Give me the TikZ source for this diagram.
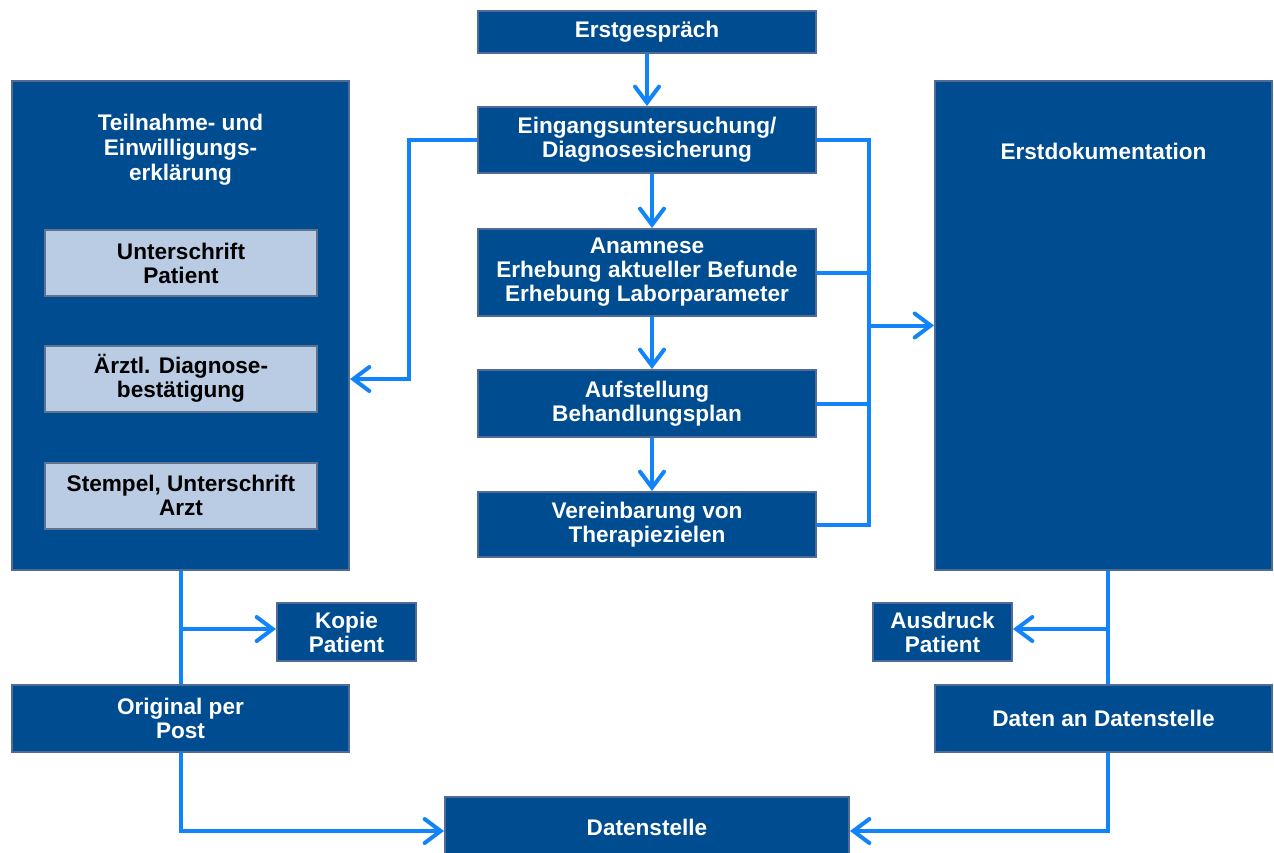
\documentclass[tikz,border=0pt]{standalone}
\usepackage{fontspec}
\setmainfont{Liberation Sans}
\usepackage{tikz}
\usetikzlibrary{arrows.meta}
\usetikzlibrary{positioning}
\definecolor{dblue}{RGB}{0, 76, 145}
\definecolor{dedge}{RGB}{80, 108, 150}
\definecolor{lblue}{RGB}{185, 204, 228}
\definecolor{ledge}{RGB}{95, 115, 145}
\definecolor{abright}{RGB}{18, 132, 250}
\tikzset{dbox/.style = {fill=dblue, draw=dedge, line width=1pt, text=white,
                        align=center, inner sep=0, font=\fontsize{11.3}{12}\bfseries\selectfont}}
\tikzset{lbox/.style = {fill=lblue, draw=ledge, line width=1pt, text=black,
                        align=center, inner sep=0, minimum width=136pt, minimum height=33pt,
                        font=\fontsize{11.3}{12}\bfseries\selectfont}}
\tikzset{btext/.style = {text=white, align=center, inner sep=0,
                         font=\fontsize{11.3}{12.5}\bfseries\selectfont}}
\tikzset{conn/.style = {draw=abright, line width=2pt}}
\tikzset{arr/.style = {conn, -{Straight Barb[length=8pt, width=12pt, line cap=round]}}}

\begin{document}
\begin{tikzpicture}[x=0.5pt, y=-0.5pt]
    \useasboundingbox [fill=white] (0, 0) rectangle (1274, 852);

    \node [dbox, minimum width=169pt, minimum height=21pt] (erst) at (647, 31.5) {Erstgespräch};
    \node [dbox, minimum width=169pt, minimum height=33pt] (eing) at (647, 140)
      {Eingangsuntersuchung/\\Diagnosesicherung};
    \node [dbox, minimum width=169pt, minimum height=43.5pt] (anam) at (647, 272.5)
      {Anamnese\\Erhebung aktueller Befunde\\Erhebung Laborparameter};
    \node [dbox, minimum width=169pt, minimum height=33.5pt] (aufst) at (647, 403.5)
      {Aufstellung\\Behandlungsplan};
    \node [dbox, minimum width=169pt, minimum height=32.5pt] (verein) at (647, 524.5)
      {Vereinbarung von\\Therapiezielen};

    \node [dbox, minimum width=168.5pt, minimum height=244.5pt] (teil) at (180.5, 325.5) {};
    \node [btext] (teiltxt) at (180.5, 150) {Teilnahme- und\\Einwilligungs-\\erklärung};
    \node [lbox] (unter) at (181, 263) {Unterschrift\\Patient};
    \node [lbox] (aerztl) at (181, 378.5) {Ärztl. Diagnose-\\bestätigung};
    \node [lbox] (stempel) at (181, 495.5) {Stempel, Unterschrift\\Arzt};

    \node [dbox, minimum width=168.5pt, minimum height=244.5pt] (doku) at (1103.5, 325.5) {};
    \node [btext] (dokutxt) at (1103.5, 151) {Erstdokumentation};

    \node [dbox, minimum width=69.5pt, minimum height=29pt] (kopie) at (346.5, 632) {Kopie\\Patient};
    \node [dbox, minimum width=168.5pt, minimum height=33.5pt] (orig) at (180.5, 718.5)
      {Original per\\Post};
    \node [dbox, minimum width=69.5pt, minimum height=29pt] (ausdr) at (942.5, 632) {Ausdruck\\Patient};
    \node [dbox, minimum width=168.5pt, minimum height=33.5pt] (daten) at (1103.5, 718.5)
      {Daten an Datenstelle};
    \node [dbox, minimum width=202pt, minimum height=30pt] (dstelle) at (647, 827) {Datenstelle};

    \coordinate (lx) at (409, 379);
    \coordinate (rx) at (869, 0);
    \coordinate (rv) at (1108, 0);

    \draw [arr] (erst) -- (eing);
    \draw [arr] ([xshift=2.5pt]eing.south) -- ([xshift=2.5pt]anam.north);
    \draw [arr] ([xshift=2.5pt]anam.south) -- ([xshift=2.5pt]aufst.north);
    \draw [arr] ([xshift=2.5pt]aufst.south) -- ([xshift=2.5pt]verein.north);

    \draw [arr] (eing.west) -| (lx) -- (lx -| teil.east);

    \draw [conn] (eing.east) -| (verein.east -| rx) -- (verein.east);
    \draw [conn] (anam.east) -- (anam.east -| rx);
    \draw [conn] (aufst.east) -- (aufst.east -| rx);
    \draw [arr] (doku.west -| rx) -- (doku.west);

    \draw [conn] (teil.south) -- (orig.north);
    \draw [arr] ([yshift=1.5pt]kopie.west -| orig) -- ([yshift=1.5pt]kopie.west);
    \draw [arr] (orig.south) |- ([yshift=-2pt]dstelle.west);

    \draw [conn] (doku.south -| rv) -- (daten.north -| rv);
    \draw [arr] ([yshift=1.5pt]ausdr.east -| rv) -- ([yshift=1.5pt]ausdr.east);
    \draw [arr] (daten.south -| rv) |- ([yshift=-2pt]dstelle.east);
  \end{tikzpicture}
\end{document}
